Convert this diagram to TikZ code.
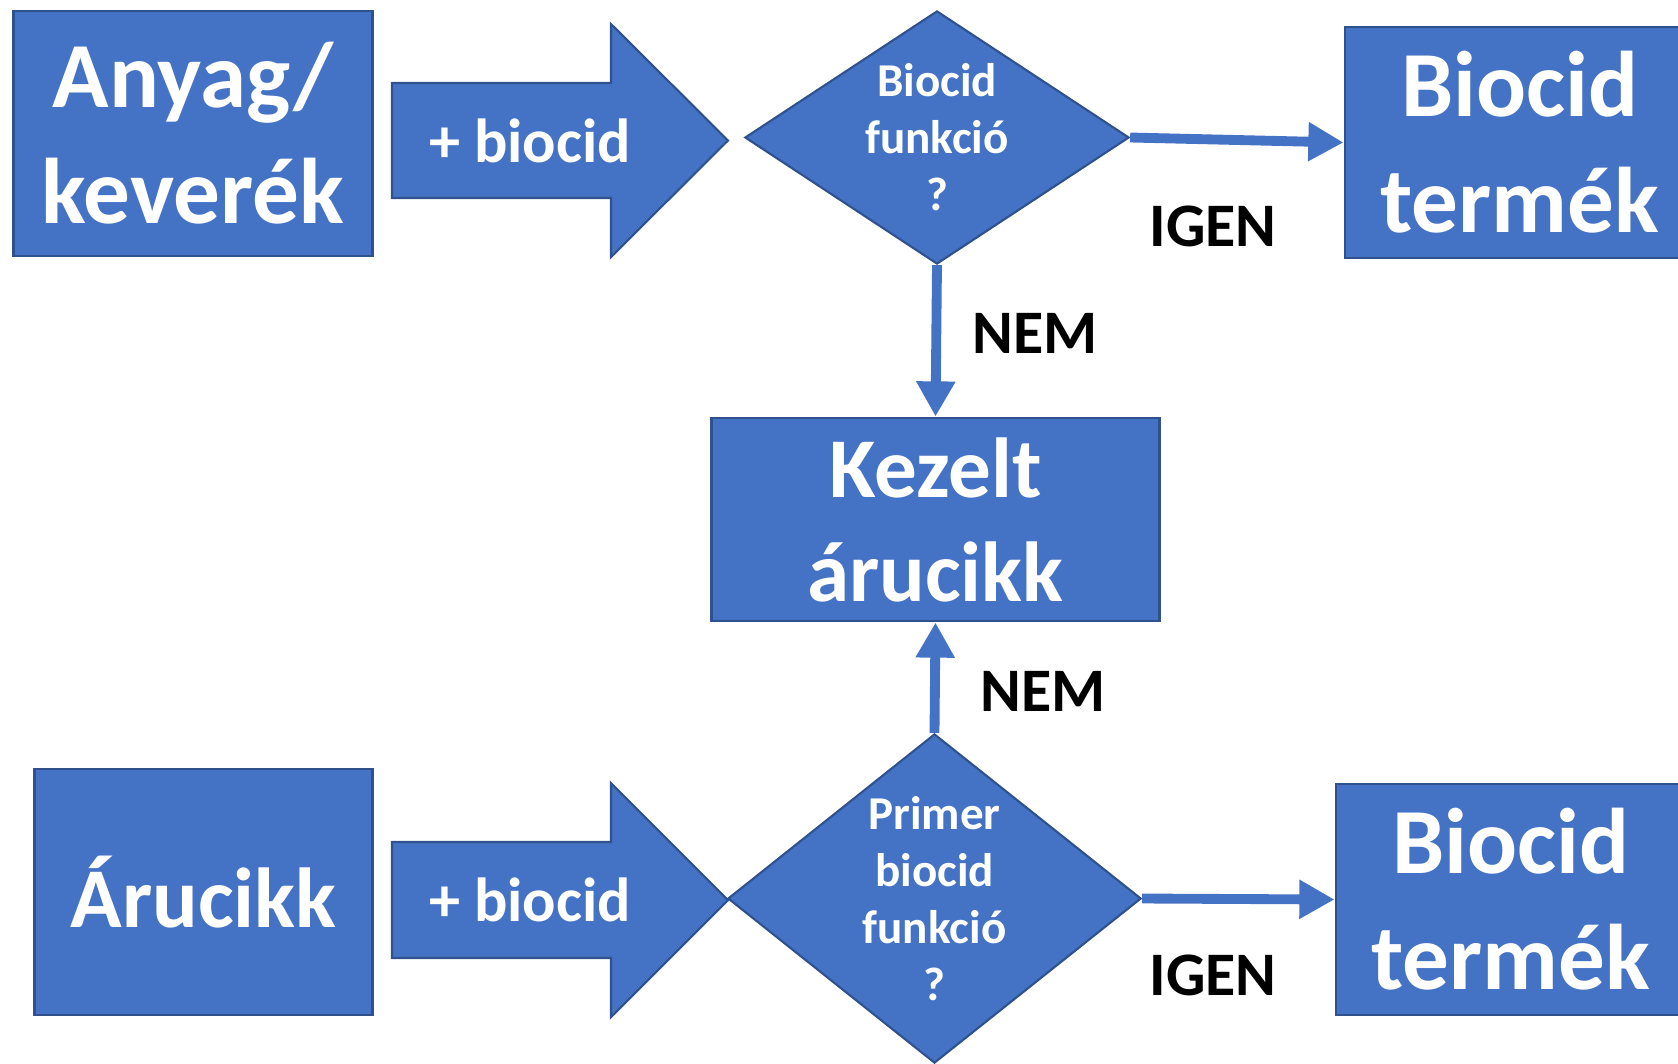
\documentclass[tikz,border=0pt]{standalone}
\usepackage{fontspec}
\setmainfont{Carlito}
\usetikzlibrary{arrows.meta,shapes.geometric}
\definecolor{ofblue}{HTML}{4472C4}
\definecolor{ofedge}{HTML}{2F528F}
\tikzset{
    box/.style={rectangle, draw=ofedge, fill=ofblue, line width=0.8pt, text=white, align=center, inner sep=0,
                font=\fontsize{26.5}{33}\selectfont\bfseries},
    boxs/.style={box, font=\fontsize{24.2}{29.6}\selectfont\bfseries},
    dia/.style={diamond, draw=ofedge, fill=ofblue, line width=0.6pt, inner sep=0},
    qtext/.style={text=white, align=center, font=\fontsize{13.4}{16.2}\selectfont\bfseries},
    blk/.style={draw=ofedge, fill=ofblue, line width=0.6pt, line join=miter},
    plus/.style={text=white, font=\fontsize{17.7}{20}\selectfont\bfseries},
    post/.style={-{Triangle[length=10pt, width=10.5pt]}, draw=ofblue, line width=2.8pt},
    lab/.style={font=\fontsize{17.6}{20}\selectfont\bfseries},
  }

\begin{document}
\begin{tikzpicture}[x=0.01cm, y=-0.01cm]
  \useasboundingbox (0,0) rectangle (1678,1063);

  % upper row
  \node (anyag) [box, minimum width=3.58cm, minimum height=2.45cm] at (193,133.5) {Anyag/\\keverék};
  \draw [blk] (392,83) -- (611,83) -- (611,24) -- (728,140.5) -- (611,257) -- (611,198) -- (392,198) -- cycle;
  \node (plus1) [plus] at (530,141) {+ biocid};
  \node (dia1) [dia, minimum width=3.84cm, minimum height=2.53cm] at (937,137.5) {};
  \node (q1) [qtext] at (dia1.center) {Biocid\\funkció\\?};
  \node (termek1) [box, minimum width=3.5cm, minimum height=2.31cm] at (1520,142.5) {Biocid\\termék};

  % middle
  \node (kezelt) [boxs, minimum width=4.47cm, minimum height=2.03cm] at (935.5,519.5) {Kezelt\\árucikk};

  % lower row
  \node (arucikk) [boxs, minimum width=3.37cm, minimum height=2.46cm] at (203.5,892) {Árucikk};
  \draw [blk] (392,842) -- (611,842) -- (611,783) -- (728,900) -- (611,1017) -- (611,958) -- (392,958) -- cycle;
  \node (plus2) [plus] at (530,900) {+ biocid};
  \node (dia2) [dia, minimum width=4.13cm, minimum height=3.29cm] at (934.5,898.5) {};
  \node (q2) [qtext] at (dia2.center) {Primer\\biocid\\funkció\\?};
  \node (termek2) [box, minimum width=3.5cm, minimum height=2.31cm] at (1511,899.5) {Biocid\\termék};

  \draw [post] (dia1.east) -- (termek1.west);
  \draw [post] (dia1.south) -- (kezelt.north);
  \draw [post] (dia2.north) -- (kezelt.south);
  \draw [post] (dia2.east) -- (termek2.west);

  \node (igen1) [lab] at (1213,226) {IGEN};
  \node (nem1) [lab] at (1035,333) {NEM};
  \node (nem2) [lab] at (1043,691) {NEM};
  \node (igen2) [lab] at (1213,975) {IGEN};
\end{tikzpicture}
\end{document}
